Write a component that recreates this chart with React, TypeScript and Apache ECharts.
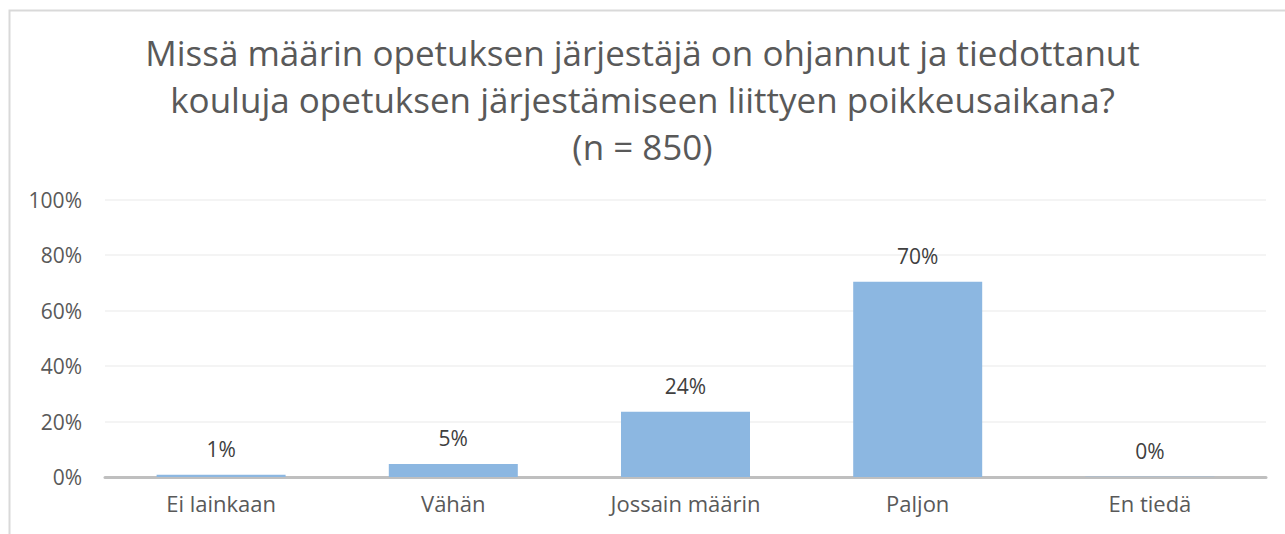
import React, { useEffect, useRef } from "react";
import * as echarts from "echarts";

const categories = ["Ei lainkaan", "Vähän", "Jossain määrin", "Paljon", "En tiedä"];
const values = [0.8, 4.7, 23.5, 70.4, 0.1];
const yTicks = [0, 20, 40, 60, 80, 100];
const titleLines = [
  "Missä määrin opetuksen järjestäjä on ohjannut ja tiedottanut",
  "kouluja opetuksen järjestämiseen liittyen poikkeusaikana?",
  "(n = 850)",
];

export default function App() {
  const ref = useRef<HTMLDivElement>(null);
  useEffect(() => {
    if (!ref.current) return;
    const chart = echarts.init(ref.current, undefined, { renderer: "svg" });
    chart.setOption({
      animation: false,
      backgroundColor: "#ffffff",
      title: {
        text: titleLines.join("\n"),
        left: "center",
        top: 24,
        textStyle: {
          fontFamily: "Open Sans",
          fontSize: 35,
          fontWeight: "normal",
          color: "#595959",
          lineHeight: 47,
        },
      },
      graphic: [
        {
          type: "rect",
          shape: { x: 9.5, y: 10.5, width: 1300, height: 600 },
          style: { fill: "none", stroke: "#D9D9D9", lineWidth: 2 },
          silent: true,
        },
      ],
      grid: { left: 105, right: 19, top: 199.5, bottom: 57, containLabel: false },
      xAxis: {
        type: "category",
        data: categories,
        axisLine: { lineStyle: { color: "#BFBFBF", width: 3 } },
        axisTick: { show: false },
        axisLabel: {
          fontFamily: "Open Sans",
          fontSize: 22,
          color: "#595959",
          margin: 15,
        },
      },
      yAxis: {
        type: "value",
        min: 0,
        max: 100,
        interval: 20,
        axisLine: { show: false },
        axisTick: { show: false },
        splitLine: { lineStyle: { color: "#F0F0F0", width: 1.5 } },
        axisLabel: {
          fontFamily: "Open Sans",
          fontSize: 21,
          color: "#595959",
          margin: 23,
          formatter: (v: number) => (yTicks.includes(v) ? v + "%" : ""),
        },
      },
      series: [
        {
          type: "bar",
          data: values,
          barWidth: 129,
          itemStyle: { color: "#8CB7E1" },
          label: {
            show: true,
            position: "top",
            distance: 15,
            fontFamily: "Open Sans",
            fontSize: 21,
            color: "#404040",
            formatter: (p: any) => Math.round(p.value) + "%",
          },
        },
      ],
    });
    return () => chart.dispose();
  }, []);
  return (
    <div
      ref={ref}
      style={{ position: "fixed", left: 0, top: 0, width: 1285, height: 534 }}
    />
  );
}
